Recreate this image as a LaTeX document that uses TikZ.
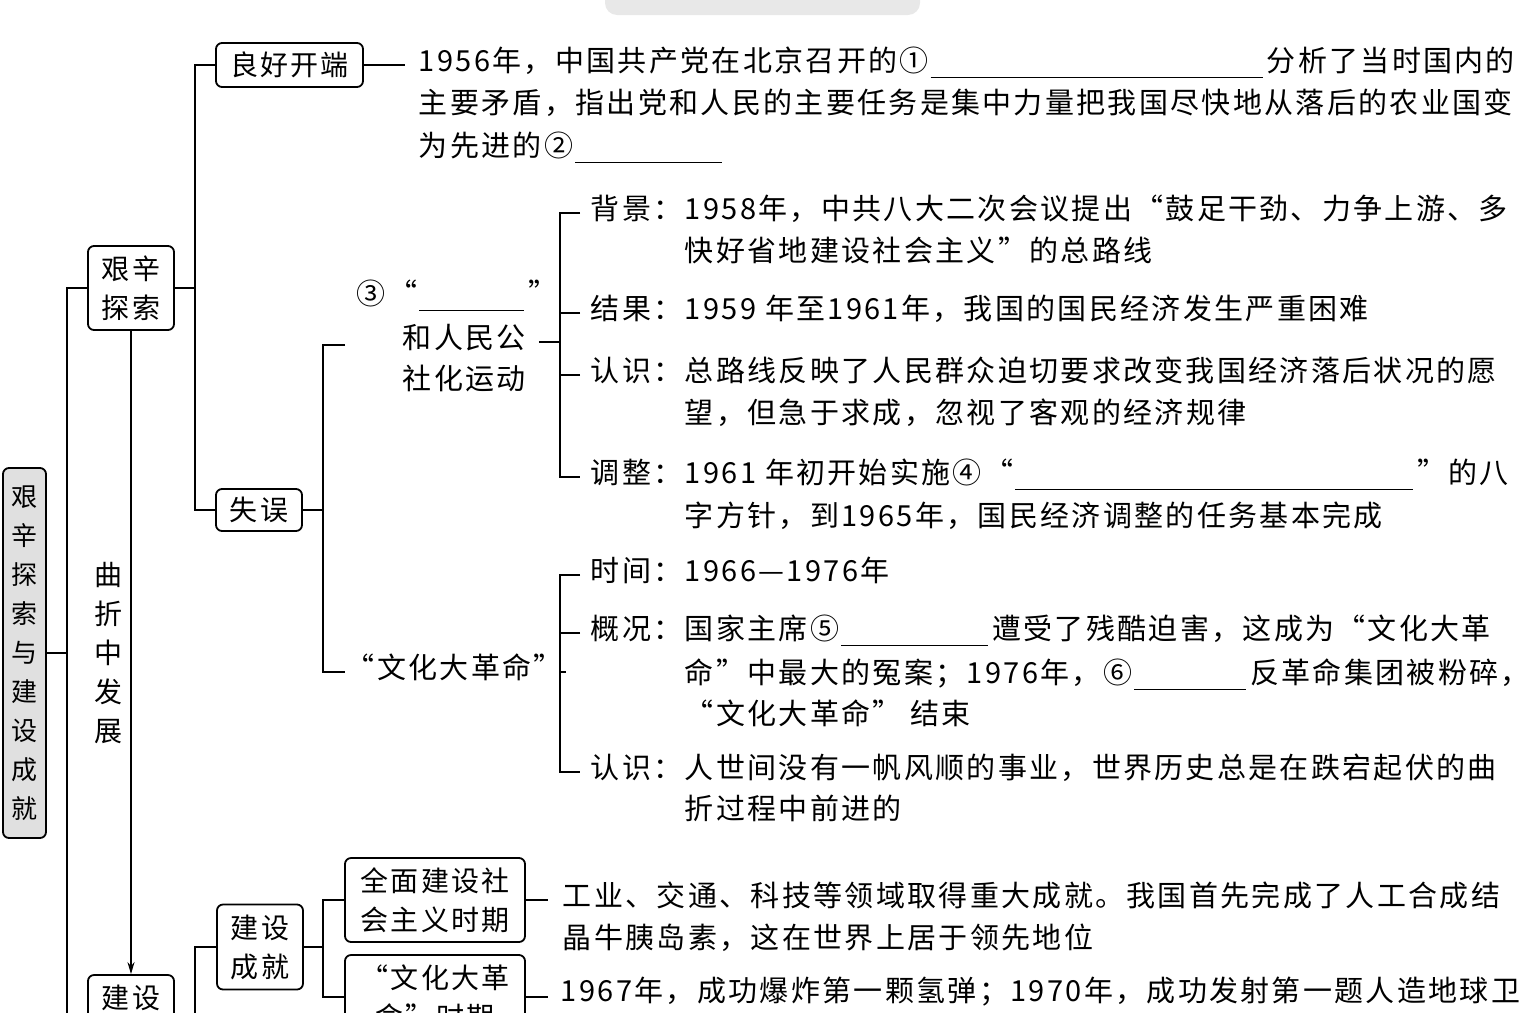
\documentclass[tikz,border=0pt]{standalone}
\usepackage{fontspec}
\setmainfont[LetterSpace=8]{Noto Sans CJK SC}
\usetikzlibrary{positioning}
\usetikzlibrary{arrows.meta}
\definecolor{rootgray}{gray}{0.88}
\definecolor{smudge}{gray}{0.91}
\newcommand{\fillin}[1]{\hspace{1pt}\rule[-0.22em]{#1}{0.6pt}\hspace{2pt}}
\tikzset{every picture/.style={
    line width=0.9pt,
}}

\begin{document}
\begin{tikzpicture}[x=0.5pt, y=-0.5pt,
    box/.style={draw, rounded corners=3pt, fill=white, inner sep=0pt, align=center,
        font=\fontsize{14}{19.5}\selectfont},
    txtline/.style={anchor=west, inner sep=0pt, text height=0.76em, text depth=0.12em,
        font=\fontsize{14.5}{21}\selectfont},
  ]
  \useasboundingbox (0,0) rectangle (1534,1012);
  \clip (0,0) rectangle (1534,1012);
  \fill[smudge, rounded corners=6pt] (605,-20) rectangle (920,15);

  % boxes
  \node[box, fill=rootgray, minimum width=21.5pt, minimum height=185pt,
      font=\fontsize{13}{19.5}\selectfont] (root) at (24.5,653)
      {艰\\辛\\探\\索\\与\\建\\设\\成\\就};
  \node[box, minimum width=43pt, minimum height=42pt] (jxts) at (131,288) {艰辛\\探索};
  \node[box, minimum width=43pt, minimum height=42pt] (jsbox) at (131,1017) {建设\\\phantom{成就}};
  \node[font=\fontsize{14}{19.5}\selectfont, align=center, inner sep=0pt] (qzfz) at (108,653)
      {曲\\折\\中\\发\\展};
  \node[box, minimum width=73.5pt, minimum height=22pt] (lhkd) at (289.5,65) {良好开端};
  \node[box, minimum width=43pt, minimum height=21pt] (sw) at (259,510) {失误};
  \node[box, minimum width=43pt, minimum height=42.5pt] (jscj) at (260,947) {建设\\成就};
  \node[box, minimum width=90pt, minimum height=42pt] (qmjs) at (435,900) {全面建设社\\会主义时期};
  \node[box, minimum width=90pt, minimum height=42pt] (wgsq) at (435,997) {“文化大革\\命”时期};

  % good start
  \node[txtline] (l1) at (418,65) {1956年，中国共产党在北京召开的①\fillin{166pt}分析了当时国内的};
  \node[txtline] (l2) at (418,107) {主要矛盾，指出党和人民的主要任务是集中力量把我国尽快地从落后的农业国变};
  \node[txtline] (l3) at (418,150) {为先进的②\fillin{73.5pt}};

  % great leap
  \node[txtline] (g1) at (356,298) {③“\fillin{52.5pt}”};
  \node[txtline] (g2) at (402,342) {和人民公};
  \node[txtline] (g3) at (402,383) {社化运动};
  \node[txtline] (bj1) at (590,213) {背景：1958年，中共八大二次会议提出“鼓足干劲、力争上游、多};
  \node[txtline] (bj2) at (684,255) {快好省地建设社会主义”的总路线};
  \node[txtline] (jg) at (590,313) {结果：1959 年至1961年，我国的国民经济发生严重困难};
  \node[txtline] (rs1) at (590,375) {认识：总路线反映了人民群众迫切要求改变我国经济落后状况的愿};
  \node[txtline] (rs1b) at (684,417) {望，但急于求成，忽视了客观的经济规律};
  \node[txtline] (tz1) at (590,477) {调整：1961 年初开始实施④“\fillin{199pt}”的八};
  \node[txtline] (tz2) at (684,520) {字方针，到1965年，国民经济调整的任务基本完成};

  % cultural revolution
  \node[txtline] (wg) at (345,672) {“文化大革命”};
  \node[txtline] (sj) at (590,575) {时间：1966—1976年};
  \node[txtline] (gk1) at (590,633) {概况：国家主席⑤\fillin{73.5pt}遭受了残酷迫害，这成为“文化大革};
  \node[txtline] (gk2) at (684,677) {命”中最大的冤案；1976年，⑥\fillin{56pt}反革命集团被粉碎，};
  \node[txtline] (gk3) at (684,718) {“文化大革命” 结束};
  \node[txtline] (rs2) at (590,772) {认识：人世间没有一帆风顺的事业，世界历史总是在跌宕起伏的曲};
  \node[txtline] (rs2b) at (684,813) {折过程中前进的};

  % achievements
  \node[txtline] (q1) at (562,900) {工业、交通、科技等领域取得重大成就。我国首先完成了人工合成结};
  \node[txtline] (q2) at (562,942) {晶牛胰岛素，这在世界上居于领先地位};
  \node[txtline] (w1) at (560,995) {1967年，成功爆炸第一颗氢弹；1970年，成功发射第一题人造地球卫};

  % connectors
  \coordinate (t0) at (67,288);
  \coordinate (b1) at (195,288);
  \draw (root.east) -- (root.east -| t0);
  \draw (jxts.west) -- (t0) -- (t0 |- jsbox.west) -- (jsbox.west);
  \draw[-{Stealth[length=6pt,width=3.5pt]}] (jxts.south) -- (jsbox.north);
  \draw (jxts.east) -- (b1);
  \draw (lhkd.west) -| (b1) |- (sw.west);
  \draw (lhkd.east) -- ([xshift=-6.5pt]l1.west);

  \coordinate (b2) at (323,510);
  \coordinate (g0) at (345,345);
  \draw (sw.east) -- (b2);
  \draw (g0) -| (b2) |- (wg.west);

  \coordinate (b3) at (560,345);
  \draw ([xshift=-5pt]bj1.west) -| (b3) |- ([xshift=-5pt]tz1.west);
  \draw ([xshift=-5pt]jg.west) -- (jg.west -| b3);
  \draw ([xshift=-5pt]rs1.west) -- (rs1.west -| b3);
  \draw ([xshift=6pt]g2.east) -- (g2.east -| b3);

  \coordinate (b4) at (560,672);
  \draw ([xshift=-5pt]sj.west) -| (b4) |- ([xshift=-5pt]rs2.west);
  \draw ([xshift=-5pt]gk1.west) -- (gk1.west -| b4);
  \draw ([xshift=1pt]wg.east) -- (b4);

  \coordinate (b5) at (195,947);
  \coordinate (b6) at (323,947);
  \draw (jsbox.east) -| (b5) -- (jscj.west);
  \draw (jscj.east) -- (b6);
  \draw (qmjs.west) -| (b6) |- (wgsq.west);
  \draw (qmjs.east) -- ([xshift=-7pt]q1.west);
  \draw (wgsq.east) -- ([xshift=-6pt]w1.west |- wgsq.east);
\end{tikzpicture}
\end{document}
